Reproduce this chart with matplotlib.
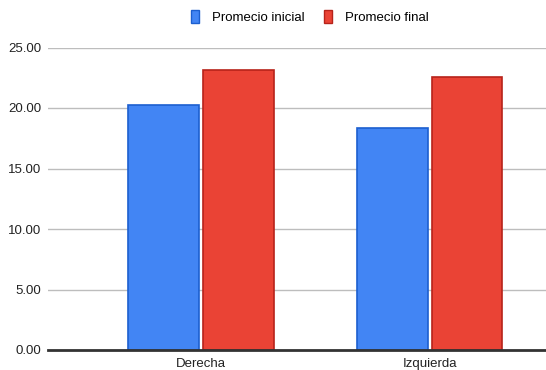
import numpy as np
import matplotlib.pyplot as plt
from matplotlib.patches import Patch

plt.rcParams['font.family'] = ['Liberation Sans', 'DejaVu Sans']

categorias = ['Derecha', 'Izquierda']
promedio_inicial = [20.25, 18.37]
promedio_final = [23.15, 22.6]
ticks_y = [0, 5, 10, 15, 20, 25]

azul = '#4285F4'
rojo = '#EA4335'

fig = plt.figure(figsize=(5.46, 3.70), dpi=100)
ax = fig.add_axes([48 / 546, 20 / 370, 498 / 546, 302.5 / 370])

x = np.arange(len(categorias))
w = 0.31
ax.bar(x - 0.162, promedio_inicial, w, color=azul, edgecolor='#1c5fcf', linewidth=1.2, zorder=3)
ax.bar(x + 0.162, promedio_final, w, color=rojo, edgecolor='#b7231a', linewidth=1.2, zorder=3)

ax.set_xlim(-0.668, 1.507)
ax.set_ylim(0, 25)
ax.set_yticks(ticks_y)
ax.set_yticklabels([f'{v:.2f}' for v in ticks_y], fontsize=9.5, color='#222222')
ax.set_xticks(x)
ax.set_xticklabels(categorias, fontsize=9.5, color='#222222')
ax.tick_params(length=0)
ax.tick_params(axis='x', pad=6)
ax.tick_params(axis='y', pad=5)

ax.grid(axis='y', color='#bdbdbd', linewidth=1, zorder=0)
for s in ['top', 'right', 'left']:
    ax.spines[s].set_visible(False)
ax.spines['bottom'].set_color('#333333')
ax.spines['bottom'].set_linewidth(2)
ax.spines['bottom'].set_zorder(4)

handles = [Patch(facecolor=azul, edgecolor='#1c5fcf', label='Promecio inicial'),
           Patch(facecolor=rojo, edgecolor='#b7231a', label='Promecio final')]
fig.legend(handles=handles, loc='center', bbox_to_anchor=(310 / 546, 1 - 17 / 370),
           ncol=2, frameon=False, fontsize=9.5, handlelength=0.55, handleheight=1.1,
           handletextpad=1.0, columnspacing=1.5)

fig.savefig('out.png', dpi=100)
